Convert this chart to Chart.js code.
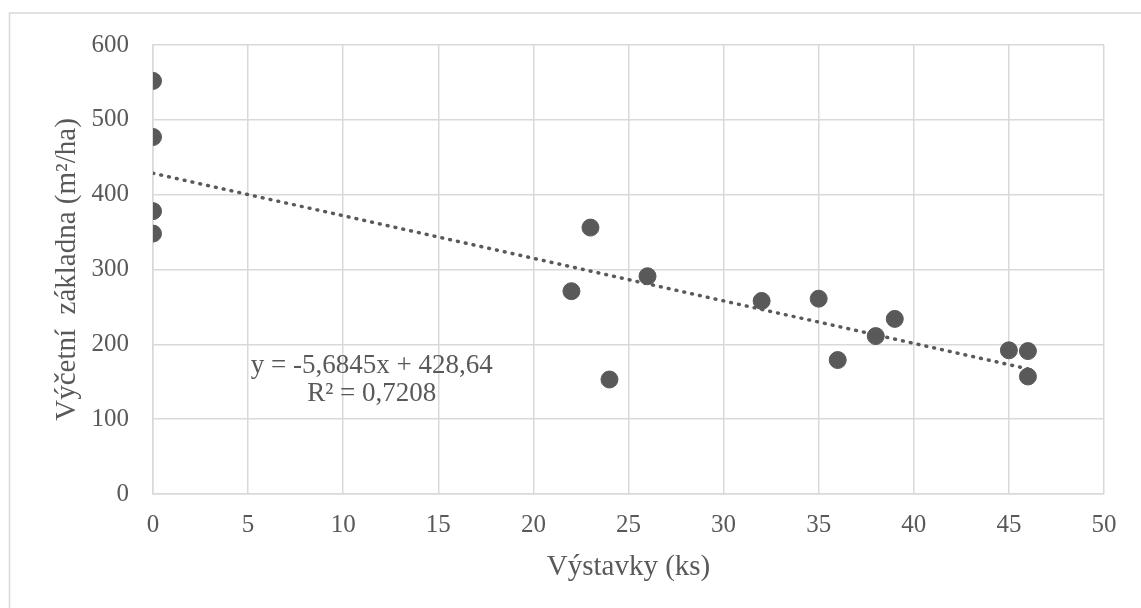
<!DOCTYPE html>
<html>
<head>
<meta charset="utf-8">
<script src="https://cdn.jsdelivr.net/npm/chart.js@4/dist/chart.umd.min.js"></script>
<style>html, body { margin: 0; background: #fff; }</style>
</head>
<body>
<canvas id="scatterChart" width="1141" height="608"></canvas>
<script>
// data
const vystavky = [0, 0, 0, 0, 22, 23, 24, 26, 32, 35, 36, 38, 39, 45, 46, 46];
const zakladna = [552, 477, 378, 348, 271, 356, 153, 291, 258, 261, 179, 211, 234, 192, 191, 157];

// linear trendline endpoints (y = -5,6845x + 428,64)
const trendX = [0, 46];
const trendY = [428.64, 167.15];

const rovnice = ['y = -5,6845x + 428,64', 'R² = 0,7208'];
const rovniceX = 11.5;          // where the label sits, in axis units
const rovniceY = [171, 134];

const xTitle = 'Výstavky (ks)';
const yTitle = 'Výčetní  základna (m²/ha)';

const grey = '#595959';
const gridGrey = '#d9d9d9';
const serif = "'Liberation Serif', 'Times New Roman', serif";

const points = vystavky.map((x, i) => ({ x: x, y: zakladna[i] }));
const trend = trendX.map((x, i) => ({ x: x, y: trendY[i] }));

const frame = {
    id: 'frame',
    beforeDraw(chart) {
        const c = chart.ctx;
        c.save();
        c.strokeStyle = gridGrey;
        c.lineWidth = 1.5;
        c.strokeRect(9.5, 13, 1200, 700);
        c.restore();
    }
};

const equationLabel = {
    id: 'equationLabel',
    afterDatasetsDraw(chart) {
        const c = chart.ctx;
        const xs = chart.scales.x, ys = chart.scales.y;
        c.save();
        c.font = '27px ' + serif;
        c.fillStyle = grey;
        c.textAlign = 'center';
        c.textBaseline = 'middle';
        rovnice.forEach((t, i) => {
            c.fillText(t, xs.getPixelForValue(rovniceX), ys.getPixelForValue(rovniceY[i]));
        });
        c.restore();
    }
};

new Chart(document.getElementById('scatterChart'), {
    type: 'scatter',
    data: {
        datasets: [
            {
                label: 'Trend',
                type: 'line',
                data: trend,
                order: 0,
                borderColor: grey,
                borderWidth: 3.5,
                borderDash: [0.8, 7.2],
                borderCapStyle: 'round',
                pointRadius: 0,
                fill: false
            },
            {
                label: 'Výčetní základna',
                data: points,
                order: 1,
                backgroundColor: grey,
                borderColor: grey,
                pointRadius: 8.5,
                pointHoverRadius: 8.5
            }
        ]
    },
    options: {
        responsive: false,
        animation: false,
        layout: { padding: { top: 45, right: 37, left: 0, bottom: 0 } },
        plugins: {
            legend: { display: false },
            tooltip: { enabled: false }
        },
        scales: {
            x: {
                type: 'linear',
                min: 0,
                max: 50,
                ticks: { stepSize: 5, padding: 16, color: grey, font: { family: serif, size: 25 } },
                grid: { color: gridGrey, lineWidth: 1.5, drawTicks: false },
                border: { color: gridGrey, width: 1.5 },
                title: { display: true, text: xTitle, color: grey, font: { family: serif, size: 29 }, padding: { bottom: 23 } },
                afterFit(scale) { scale.height = 114; }
            },
            y: {
                min: 0,
                max: 600,
                ticks: { stepSize: 100, padding: 24, color: grey, font: { family: serif, size: 25 } },
                grid: { color: gridGrey, lineWidth: 1.5, drawTicks: false },
                border: { color: gridGrey, width: 1.5 },
                title: { display: true, text: yTitle, color: grey, font: { family: serif, size: 29 }, padding: { top: 50 } },
                afterFit(scale) { scale.width = 153; }
            }
        }
    },
    plugins: [frame, equationLabel]
});
</script>
</body>
</html>
